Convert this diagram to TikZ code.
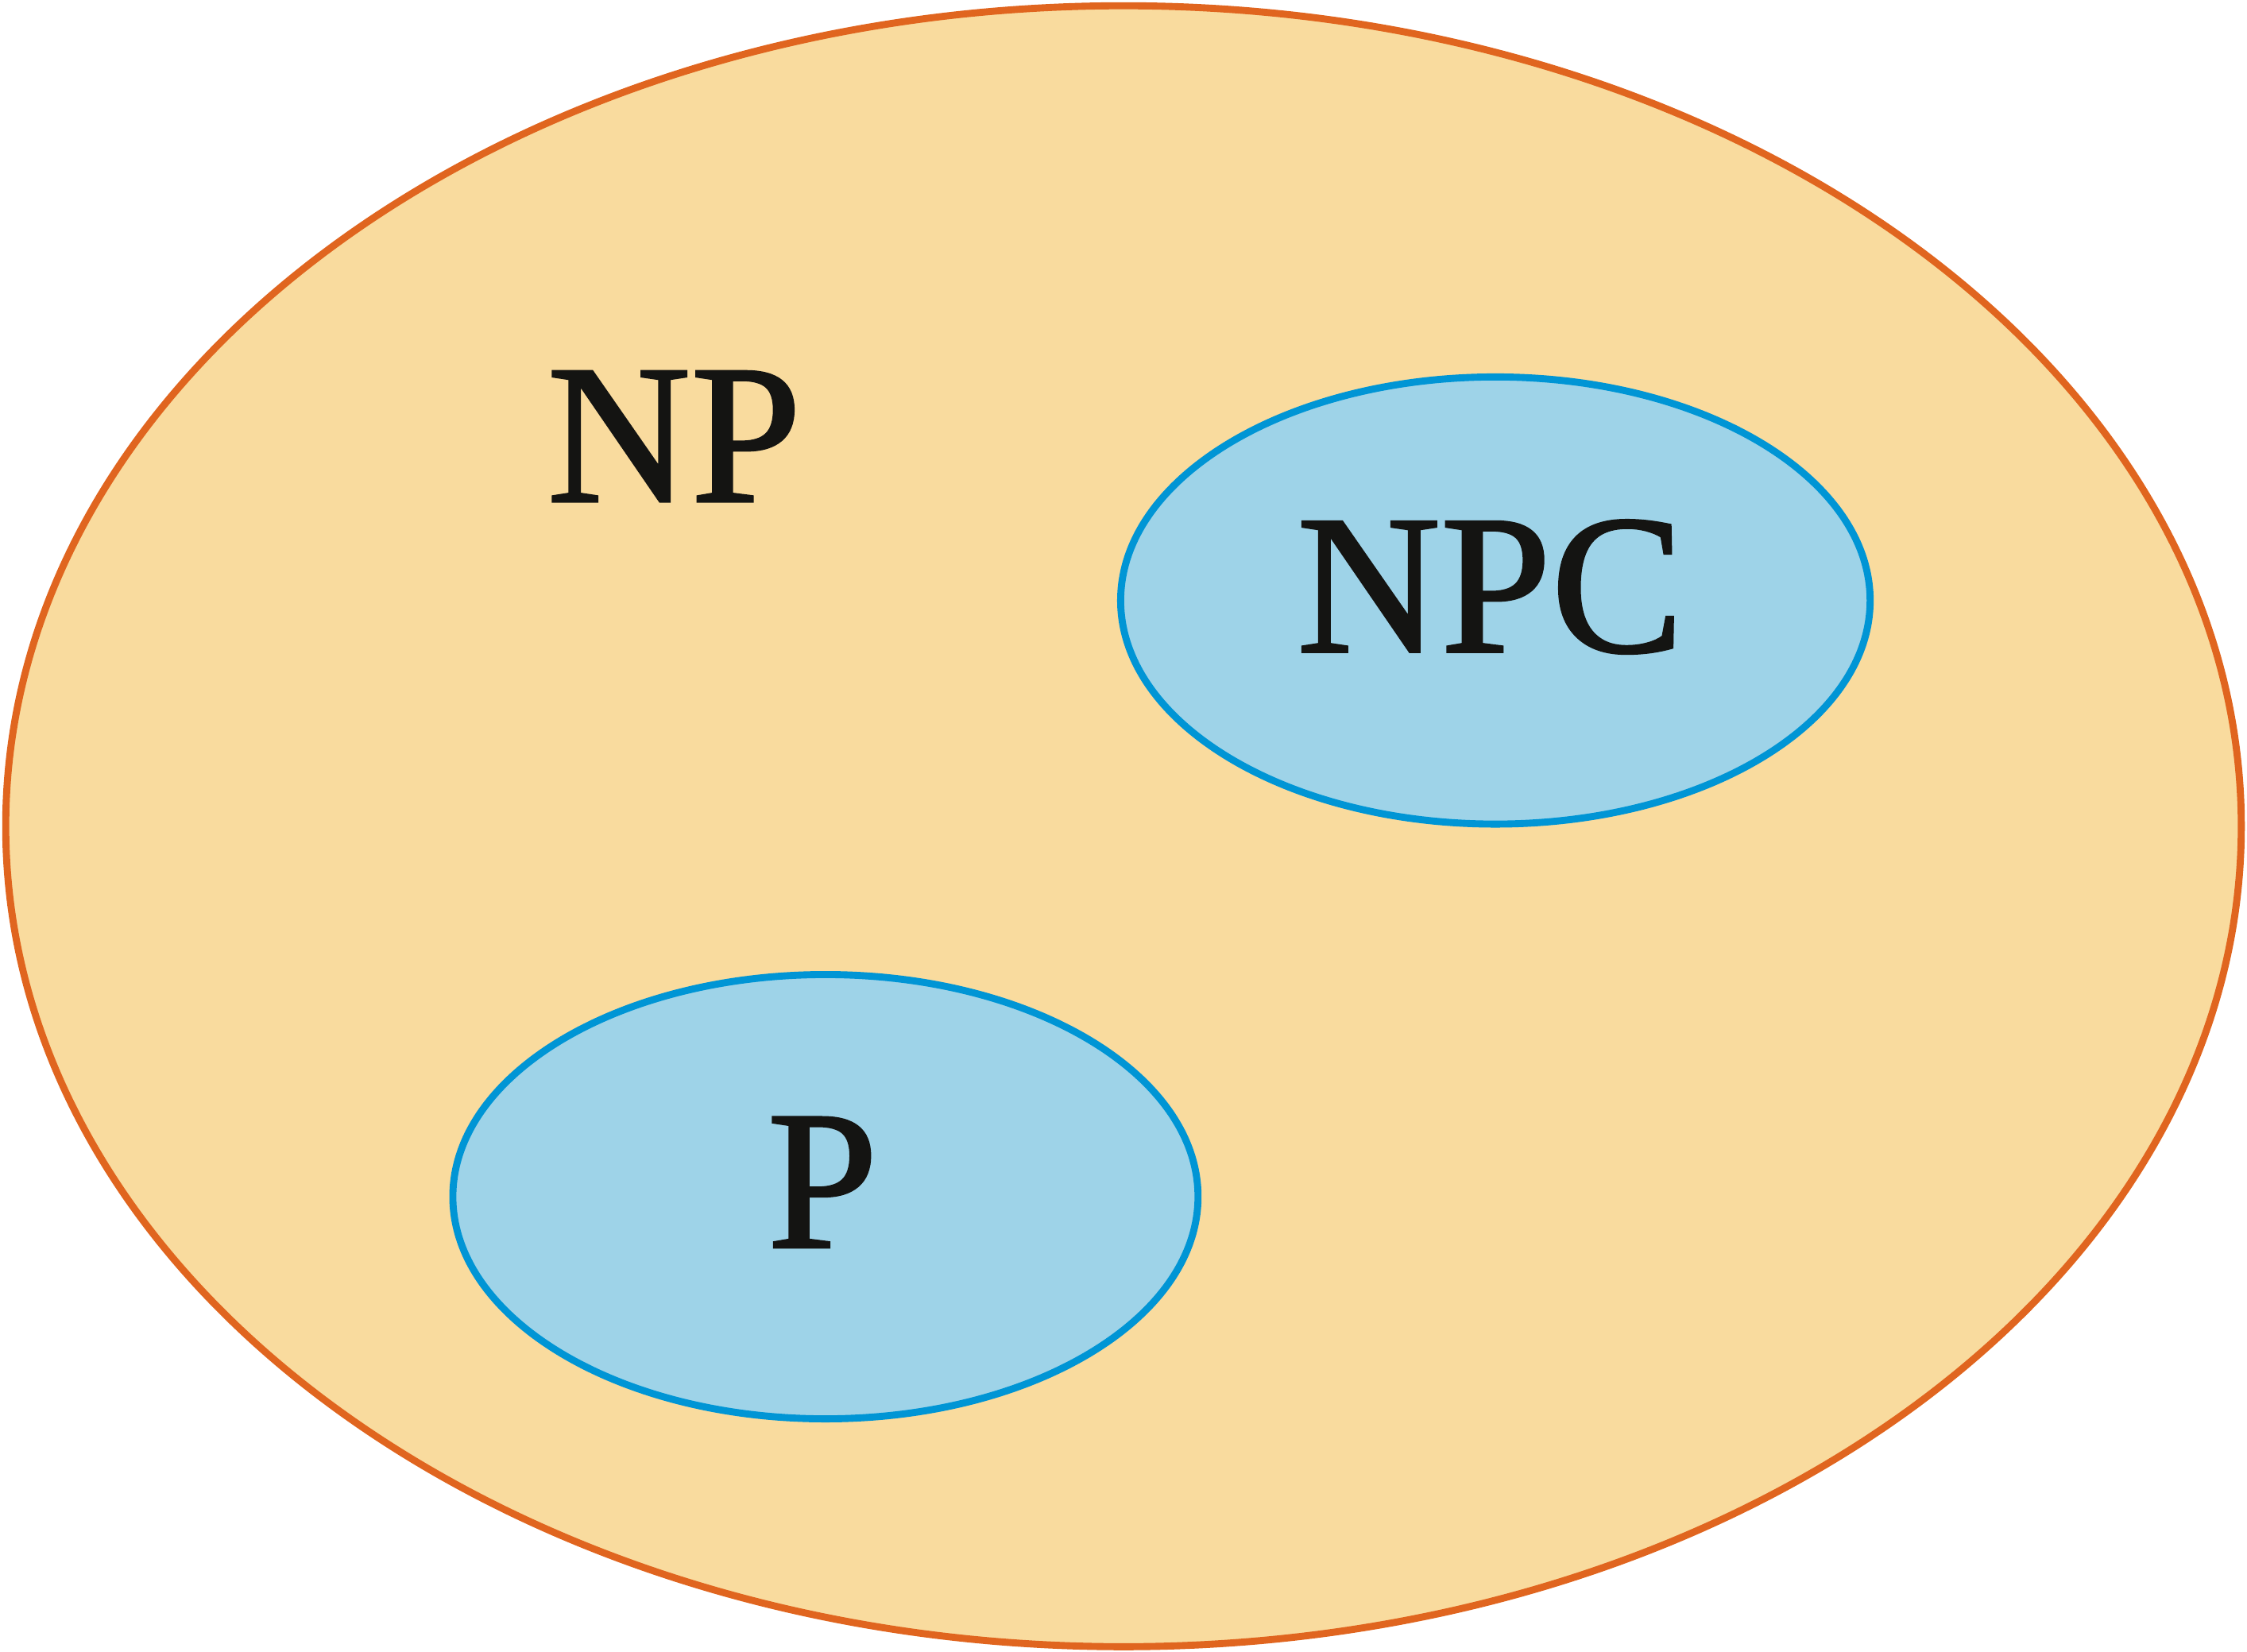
\documentclass[tikz,border=0pt]{standalone}
\usepackage{fontspec}
\setmainfont[FakeBold=1.2]{Liberation Serif}
\usetikzlibrary{shapes.geometric}
\definecolor{npfill}{HTML}{F9DB9E}
\definecolor{npline}{HTML}{E0651F}
\definecolor{subfill}{HTML}{9ED3E8}
\definecolor{subline}{HTML}{0095D5}
\definecolor{ink}{HTML}{141412}
\begin{document}
\begin{tikzpicture}[outerset/.style = {ellipse,draw=npline,fill=npfill,line width=1.4pt,inner sep=0pt},
                    innerset/.style = {ellipse,draw=subline,fill=subfill,line width=1.4pt,inner sep=0pt},
                    setname/.style = {inner sep=0pt,text=ink,font=\fontsize{39.5}{40}\selectfont}]
                \useasboundingbox (0,0) rectangle (15.68,-11.522);

                \node[outerset,minimum width=15.60cm,minimum height=11.45cm]
                    (np) at (7.84,-5.765) {};
                \node[innerset,minimum width=5.23cm,minimum height=3.12cm]
                    (npc) at (10.435,-4.19) {};
                \node[innerset,minimum width=5.20cm,minimum height=3.10cm]
                    (p) at (5.76,-8.35) {};

                \node[setname] (nplabel)  at (4.705,-3.045) {NP};
                \node[setname] (npclabel) at (10.40,-4.095) {NPC};
                \node[setname] (plabel)   at (5.74,-8.25)  {P};
            \end{tikzpicture}
\end{document}
